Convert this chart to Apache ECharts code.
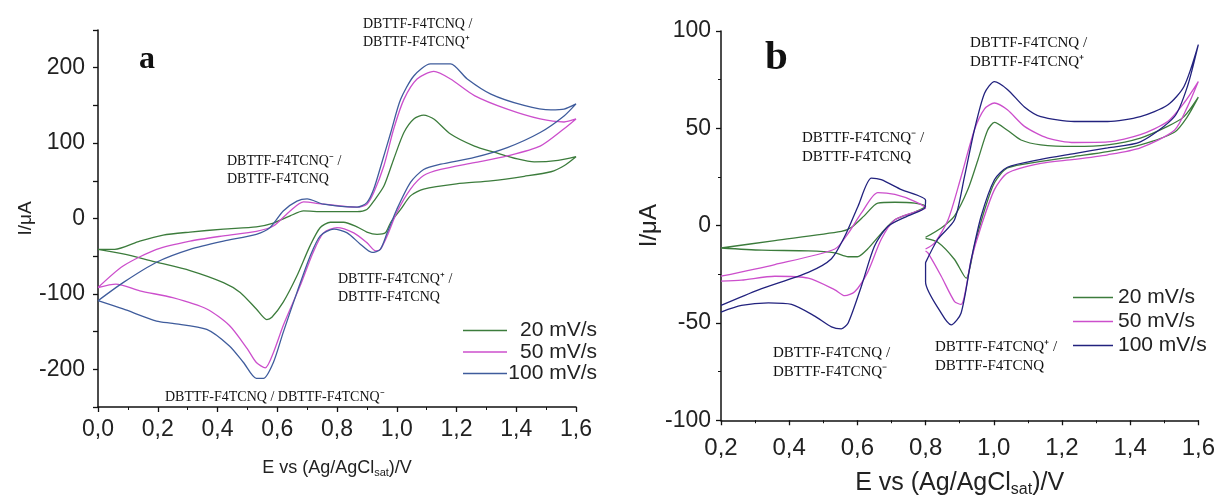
<!DOCTYPE html>
<html>
<head>
<meta charset="utf-8">
<script src="https://cdn.jsdelivr.net/npm/echarts@6/dist/echarts.min.js"></script>
<style>
  html, body { margin: 0; background: #fff; }
  #chart { width: 1218px; height: 503px; }
</style>
</head>
<body>
<div id="chart"></div>
<script>
  // scan rates (legend)
  const rates = ['20 mV/s', '50 mV/s', '100 mV/s']

  // panel a, E (V) vs I (uA), one closed loop per scan rate
  const a20 = [[0, -41], [0.056, -41], [0.14, -30], [0.218, -22], [0.308, -18], [0.42, -14], [0.53, -11], [0.587, -6], [0.643, 3.5], [0.688, 10], [0.755, 9], [0.867, 9], [0.9, 12], [0.923, 23], [0.957, 43], [0.99, 79], [1.024, 114], [1.057, 132], [1.09, 137], [1.124, 132], [1.18, 112], [1.26, 96], [1.326, 88], [1.404, 79], [1.46, 75], [1.54, 77], [1.6, 82],
    [1.56, 70], [1.516, 62], [1.427, 56], [1.315, 50], [1.2, 46], [1.09, 39], [1.046, 30], [1.013, 12], [0.98, -5], [0.962, -19], [0.934, -21], [0.9, -18], [0.867, -11], [0.822, -5], [0.778, -5], [0.744, -12], [0.71, -36], [0.666, -76], [0.62, -111], [0.582, -131], [0.565, -134], [0.53, -120], [0.476, -98], [0.42, -85], [0.308, -69], [0.196, -58], [0.084, -47], [0, -41]]
  const a50 = [[0, -91.6], [0.084, -63], [0.196, -41], [0.308, -30], [0.42, -23], [0.53, -17], [0.587, -10], [0.643, 10], [0.688, 22], [0.755, 19], [0.867, 15], [0.9, 19], [0.923, 34.5], [0.957, 70], [0.99, 119], [1.024, 158], [1.068, 185], [1.124, 195], [1.18, 185], [1.26, 163], [1.37, 145], [1.48, 132], [1.56, 128], [1.6, 132],
    [1.56, 119], [1.48, 96], [1.37, 83], [1.26, 74], [1.147, 65], [1.09, 57], [1.046, 39], [1.0, 8], [0.968, -23], [0.945, -41], [0.93, -43], [0.9, -32], [0.856, -19], [0.8, -12], [0.755, -19], [0.72, -45], [0.677, -89], [0.62, -142], [0.587, -178], [0.56, -198], [0.53, -191], [0.5, -173], [0.44, -142], [0.364, -120], [0.25, -105], [0.14, -96], [0.06, -87], [0, -91.6]]
  const a100 = [[0, -109], [0.084, -85], [0.196, -58], [0.308, -41], [0.42, -30], [0.53, -21], [0.576, -12], [0.62, 10], [0.666, 23], [0.7, 26], [0.755, 19], [0.867, 15], [0.9, 21], [0.923, 39], [0.95, 74], [0.98, 114], [1.013, 158], [1.057, 189], [1.113, 205], [1.18, 205], [1.236, 185], [1.315, 165], [1.426, 150], [1.516, 144], [1.56, 145], [1.6, 152],
    [1.56, 136], [1.48, 114], [1.37, 94], [1.26, 81], [1.147, 72], [1.09, 65], [1.046, 48], [1.0, 12], [0.968, -19], [0.945, -41], [0.917, -45], [0.878, -34], [0.834, -19], [0.79, -14], [0.744, -23], [0.71, -50], [0.666, -98], [0.62, -151], [0.587, -191], [0.554, -212], [0.53, -212], [0.487, -191], [0.44, -169], [0.364, -147], [0.25, -139], [0.196, -136], [0.084, -120], [0, -109]]

  // panel b, first wave (0.2 - 0.8 V)
  const b20L = [[0.2, -11.5], [0.358, -7.7], [0.553, -3], [0.582, -1], [0.62, 5], [0.66, 11.6], [0.71, 12], [0.768, 11.6], [0.8, 10], [0.768, 7], [0.71, 3], [0.67, -4], [0.63, -12], [0.6, -16], [0.573, -16], [0.534, -14], [0.456, -13], [0.32, -12.6], [0.2, -11.5]]
  const b50L = [[0.2, -26], [0.358, -20], [0.534, -12], [0.573, -4], [0.612, 6.5], [0.66, 17], [0.71, 16], [0.768, 12.5], [0.8, 9], [0.768, 7], [0.71, 3], [0.67, -7], [0.63, -24], [0.592, -34], [0.563, -36], [0.534, -33], [0.456, -27], [0.358, -26], [0.26, -28], [0.2, -28.5]]
  const b100L = [[0.2, -41], [0.31, -33], [0.456, -24], [0.524, -17], [0.563, -5.5], [0.602, 10], [0.641, 24.4], [0.67, 23.6], [0.729, 18.5], [0.8, 13], [0.797, 9], [0.748, 5], [0.69, -0.3], [0.65, -10.6], [0.612, -31], [0.573, -50], [0.553, -53], [0.524, -52], [0.475, -46.5], [0.407, -40.5], [0.339, -39.7], [0.26, -41], [0.2, -44.4]]

  // panel b, second wave (0.8 - 1.6 V)
  const b20R = [[0.8, -6], [0.846, -1.2], [0.885, 5], [0.924, 18.5], [0.954, 34], [0.982, 49], [1.002, 53], [1.04, 49], [1.08, 44], [1.138, 41.5], [1.236, 40.7], [1.334, 41.5], [1.43, 45], [1.51, 51], [1.558, 56], [1.6, 66],
    [1.568, 56], [1.53, 48], [1.43, 41.5], [1.334, 38], [1.236, 35.5], [1.138, 33], [1.04, 29.6], [1.002, 22], [0.973, 8], [0.943, -10.6], [0.919, -27], [0.885, -17.4], [0.836, -8.5], [0.8, -6.5]]
  const b50R = [[0.8, -12], [0.826, -9], [0.866, 3], [0.904, 25], [0.943, 49], [0.973, 60], [1.002, 63], [1.04, 59.5], [1.09, 51], [1.158, 45], [1.236, 42.7], [1.334, 43], [1.43, 46.7], [1.51, 53.5], [1.558, 63], [1.6, 74],
    [1.568, 61], [1.53, 49], [1.43, 40], [1.334, 36.4], [1.236, 34], [1.138, 32], [1.04, 27], [1.002, 18.5], [0.963, -0.3], [0.934, -17.4], [0.904, -40.5], [0.885, -39], [0.846, -26], [0.807, -14], [0.8, -13]]
  const b100R = [[0.8, -19], [0.836, -7], [0.885, 3], [0.914, 25], [0.943, 49], [0.973, 68], [1.002, 74], [1.04, 70], [1.09, 61], [1.138, 56], [1.236, 53.5], [1.334, 53.5], [1.43, 56], [1.51, 62], [1.558, 71.5], [1.6, 93],
    [1.568, 71.5], [1.53, 56], [1.43, 43], [1.334, 40], [1.236, 37], [1.138, 34], [1.04, 30], [1.002, 23.6], [0.963, 4.8], [0.934, -17.4], [0.904, -45], [0.875, -51], [0.846, -45], [0.8, -29], [0.8, -19]]

  const xTicksA = [0, 1.6, 0.2]
  const yTicksA = [-250, 250, 50]
  const xTicksB = [0.2, 1.6, 0.2]
  const yTicksB = [-100, 100, 50]

  const colorsA = ['#3c7c3c', '#cc4fcc', '#3f5c9c']
  const colorsB = ['#3c7c3c', '#cc4fcc', '#22227e']

  const sans = 'Liberation Sans, Arial, sans-serif'
  const serif = 'Liberation Serif, Times New Roman, serif'

  let chart = echarts.init(document.getElementById('chart'))

  function curve (name, data, color, idx) {
    return {
      name: name,
      type: 'line',
      xAxisIndex: idx,
      yAxisIndex: idx,
      data: data,
      symbol: 'none',
      smooth: 0.25,
      lineStyle: { color: color, width: 1.3 },
      itemStyle: { color: color }
    }
  }

  function xAxis (idx, t, fs, margin, gap, nfs) {
    return {
      type: 'value',
      gridIndex: idx,
      min: t[0],
      max: t[1],
      interval: t[2],
      name: 'E vs (Ag/AgCl{s|sat})/V',
      nameLocation: 'middle',
      nameGap: gap,
      nameTextStyle: {
        fontFamily: sans, fontSize: nfs, color: '#222',
        rich: { s: { fontFamily: sans, fontSize: Math.round(nfs * 0.62), color: '#222', padding: [nfs * 0.55, 0, 0, 0] } }
      },
      axisLine: { onZero: false, lineStyle: { color: '#111', width: 1.5 } },
      axisTick: { length: 5, lineStyle: { color: '#111', width: 1.3 } },
      minorTick: { show: true, splitNumber: 2, length: 3, lineStyle: { color: '#111' } },
      splitLine: { show: false },
      axisLabel: {
        fontFamily: sans, fontSize: fs, color: '#222', margin: margin,
        formatter: v => v.toFixed(1).replace('.', ',')
      }
    }
  }

  function yAxis (idx, t, fs, margin, gap, nfs) {
    return {
      type: 'value',
      gridIndex: idx,
      min: t[0],
      max: t[1],
      interval: t[2],
      name: 'I/μA',
      nameLocation: 'middle',
      nameRotate: 90,
      nameGap: gap,
      nameTextStyle: { fontFamily: sans, fontSize: nfs, color: '#222' },
      axisLine: { show: true, onZero: false, lineStyle: { color: '#111', width: 1.5 } },
      axisTick: { show: true, length: 5, lineStyle: { color: '#111', width: 1.3 } },
      splitLine: { show: false },
      axisLabel: { fontFamily: sans, fontSize: fs, color: '#222', margin: margin }
    }
  }

  function note (left, top, text, fs) {
    return {
      type: 'text',
      left: left,
      top: top,
      style: { text: text, fontFamily: serif, fontSize: fs, lineHeight: fs + 3.5, fill: '#111' }
    }
  }

  function legend (left, top, names, iconW, textWidth, fs, gap) {
    return {
      orient: 'vertical',
      left: left,
      top: top,
      padding: 0,
      data: names,
      icon: 'rect',
      itemWidth: iconW,
      itemHeight: 1.6,
      itemGap: gap,
      formatter: n => '{r|' + n.slice(2) + '}',
      textStyle: {
        rich: { r: { fontFamily: sans, fontSize: fs, color: '#222', width: textWidth || undefined, align: textWidth ? 'right' : 'left' } }
      }
    }
  }

  let yA = yAxis(0, yTicksA, 23, 13, 56, 19)
  yA.axisLabel.formatter = v => (v % 100 === 0) ? String(v) : ''
  let yB = yAxis(1, yTicksB, 23, 10, 42, 24)
  yB.minorTick = { show: true, splitNumber: 2, length: 3, lineStyle: { color: '#111' } }

  let options = {
    animation: false,
    backgroundColor: '#fff',
    grid: [
      { left: 98, top: 30, width: 478, height: 377 },
      { left: 721, top: 31, width: 478, height: 391 }
    ],
    xAxis: [xAxis(0, xTicksA, 23, 11, 51, 18), xAxis(1, xTicksB, 24, 16, 48, 25)],
    yAxis: [yA, yB],
    legend: [
      legend(463, 320, rates.map(r => 'a ' + r), 44, 85, 21, 0.5),
      legend(1073, 287, rates.map(r => 'b ' + r), 40, 0, 21, 3)
    ],
    graphic: [
      { type: 'text', left: 139, top: 44, style: { text: 'a', fontFamily: serif, fontWeight: 'bold', fontSize: 32, fill: '#111' } },
      { type: 'text', left: 765, top: 38, style: { text: 'b', fontFamily: serif, fontWeight: 'bold', fontSize: 41, fill: '#111' } },
      note(363, 16, 'DBTTF-F4TCNQ /\nDBTTF-F4TCNQ⁺', 14),
      note(227, 153, 'DBTTF-F4TCNQ⁻ /\nDBTTF-F4TCNQ', 14),
      note(338, 271, 'DBTTF-F4TCNQ⁺ /\nDBTTF-F4TCNQ', 14),
      note(165, 389, 'DBTTF-F4TCNQ / DBTTF-F4TCNQ⁻', 14),
      note(970, 34, 'DBTTF-F4TCNQ /\nDBTTF-F4TCNQ⁺', 15),
      note(802, 129, 'DBTTF-F4TCNQ⁻ /\nDBTTF-F4TCNQ', 15),
      note(773, 344, 'DBTTF-F4TCNQ /\nDBTTF-F4TCNQ⁻', 15),
      note(935, 338, 'DBTTF-F4TCNQ⁺ /\nDBTTF-F4TCNQ', 15)
    ],
    series: [
      curve('a ' + rates[0], a20, colorsA[0], 0),
      curve('a ' + rates[1], a50, colorsA[1], 0),
      curve('a ' + rates[2], a100, colorsA[2], 0),
      curve('b ' + rates[0], b20L, colorsB[0], 1),
      curve('b ' + rates[1], b50L, colorsB[1], 1),
      curve('b ' + rates[2], b100L, colorsB[2], 1),
      curve('b ' + rates[0], b20R, colorsB[0], 1),
      curve('b ' + rates[1], b50R, colorsB[1], 1),
      curve('b ' + rates[2], b100R, colorsB[2], 1)
    ]
  }
  chart.setOption(options)
</script>
</body>
</html>
